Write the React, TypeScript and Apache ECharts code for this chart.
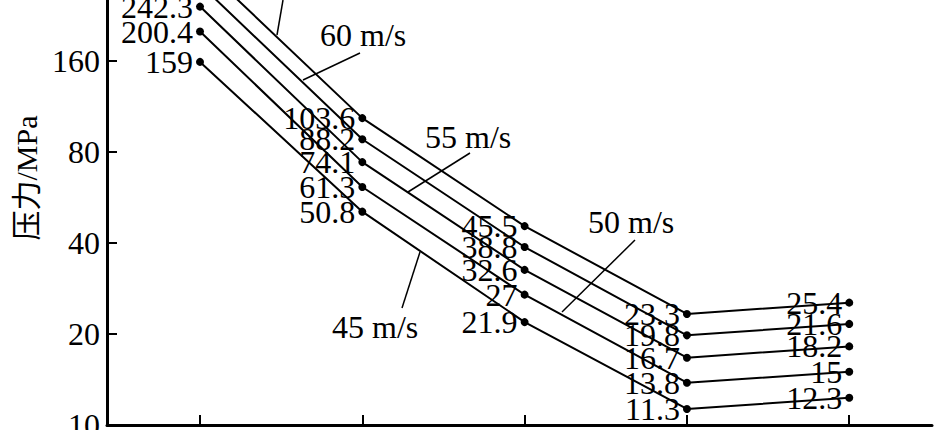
import React, { useEffect, useRef } from "react";
import * as echarts from "echarts";

const xPositions = [1, 2, 3, 4, 5];
const speedNames = ["45 m/s", "50 m/s", "55 m/s", "60 m/s", "65 m/s"];
const p45 = [159, 50.8, 21.9, 11.3, 12.3];
const p50 = [200.4, 61.3, 27, 13.8, 15];
const p55 = [242.3, 74.1, 32.6, 16.7, 18.2];
const p60 = [287, 88.2, 38.8, 19.8, 21.6];
const p65 = [335, 103.6, 45.5, 23.3, 25.4];
const yTicks = [10, 20, 40, 80, 160];
const yAxisName = "压力/MPa";

const FONT = "'Liberation Serif', 'Noto Sans CJK SC', serif";
const FS = 32;

export default function App() {
  const ref = useRef<HTMLDivElement>(null);
  useEffect(() => {
    if (!ref.current) return;
    const chart = echarts.init(ref.current, undefined, { renderer: "svg" });
    const seriesVals = [p45, p50, p55, p60, p65];
    const series = seriesVals.map((vals, si) => ({
      name: speedNames[si],
      type: "line",
      data: xPositions.map((x, i) => [x, vals[i]]),
      symbol: "circle",
      symbolSize: 8,
      clip: false,
      lineStyle: { color: "#000", width: 2 },
      itemStyle: { color: "#000" },
      label: {
        show: true,
        position: "left",
        distance: 3,
        color: "#000",
        fontFamily: FONT,
        fontSize: FS,
        formatter: (p: any) => String(p.value[1]),
      },
    }));
    const txt = (t: string, x: number, y: number) => ({
      type: "text",
      style: {
        text: t,
        x,
        y,
        textAlign: "left",
        textVerticalAlign: "middle",
        fill: "#000",
        fontFamily: FONT,
        fontSize: FS,
      },
    });
    const ln = (x1: number, y1: number, x2: number, y2: number) => ({
      type: "line",
      shape: { x1, y1, x2, y2 },
      style: { stroke: "#000", lineWidth: 1.5 },
    });
    chart.setOption({
      animation: false,
      backgroundColor: "#fff",
      grid: {
        left: 107,
        right: 13,
        top: -69,
        bottom: 5,
        containLabel: false,
        outerBoundsMode: "none",
      },
      xAxis: {
        type: "value",
        min: 0.427,
        max: 5.51,
        axisLine: { show: true, lineStyle: { color: "#000", width: 3 } },
        axisTick: {
          show: true,
          inside: true,
          length: 10,
          customValues: xPositions,
          lineStyle: { color: "#000", width: 2 },
        },
        axisLabel: { show: false },
        splitLine: { show: false },
      },
      yAxis: {
        type: "log",
        logBase: 2,
        min: 10,
        max: 431,
        name: yAxisName,
        nameLocation: "middle",
        nameGap: 58,
        nameTextStyle: { color: "#000", fontFamily: FONT, fontSize: 30 },
        axisLine: { show: true, lineStyle: { color: "#000", width: 3 } },
        axisTick: {
          show: true,
          inside: true,
          length: 10,
          customValues: yTicks,
          lineStyle: { color: "#000", width: 2 },
        },
        axisLabel: {
          show: true,
          customValues: yTicks,
          margin: 7,
          color: "#000",
          fontFamily: FONT,
          fontSize: FS,
          formatter: (v: number) => String(Math.round(v)),
        },
        splitLine: { show: false },
      },
      graphic: [
        txt("65 m/s", 225, -16),
        txt("60 m/s", 320, 35),
        txt("55 m/s", 425, 137),
        txt("50 m/s", 588, 222),
        txt("45 m/s", 332, 327),
        ln(283, 0, 277, 35),
        ln(360, 53, 303, 80),
        ln(470, 153, 408, 192),
        ln(635, 240, 562, 312),
        ln(402, 308, 420, 252),
      ],
      series,
    });
    return () => chart.dispose();
  }, []);
  return (
    <div
      ref={ref}
      style={{ position: "fixed", left: 0, top: 0, width: 945, height: 430, background: "#fff" }}
    />
  );
}
